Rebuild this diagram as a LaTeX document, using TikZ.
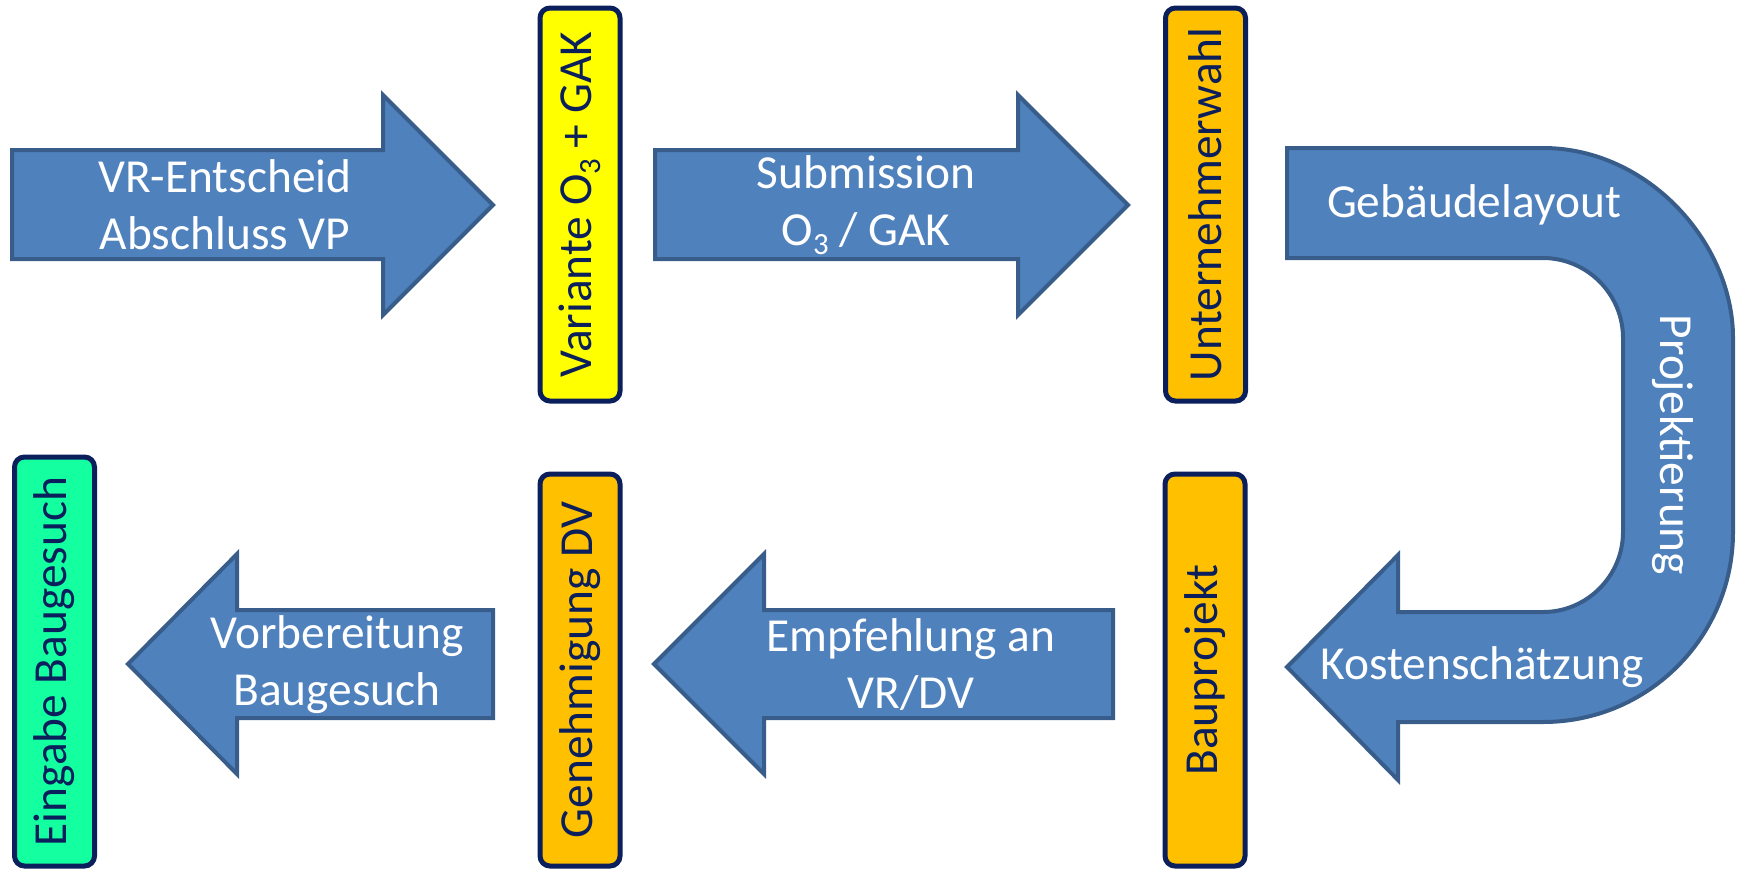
\documentclass[tikz,border=0pt]{standalone}
\usepackage{fontspec}
\setmainfont{Carlito}
\definecolor{arrowfill}{HTML}{4F81BD}
\definecolor{arrowline}{HTML}{385D8A}
\definecolor{navy}{HTML}{0A1F5C}
\definecolor{boxyellow}{HTML}{FFFF00}
\definecolor{boxorange}{HTML}{FFC000}
\definecolor{boxgreen}{HTML}{14FFA0}
\newcommand\lowsub[1]{\raisebox{-4.5pt}{\fontsize{15.4}{15}\selectfont #1}}
\begin{document}
\begin{tikzpicture}[x=0.5pt,y=-0.5pt,
  font=\fontsize{23.7}{28.5}\selectfont,
  arr/.style={fill=arrowfill, draw=arrowline, line width=2pt, line join=miter},
  atext/.style={text=white, align=center, inner sep=0pt},
  box/.style={draw=navy, line width=2.5pt, rounded corners=5pt, text=navy,
    minimum height=40pt, inner sep=0pt, rotate=90}]
\useasboundingbox (0,0) rectangle (1738,869);

% straight arrows
\path[arr] (12,150) -- (383,150) -- (383,95) -- (493,205) -- (383,315) -- (383,259) -- (12,259) -- cycle;
\path[arr] (655,150) -- (1018,150) -- (1018,95) -- (1128,205) -- (1018,315) -- (1018,259) -- (655,259) -- cycle;
\path[arr] (1113,610) -- (764,610) -- (764,554) -- (654,664) -- (764,774) -- (764,718) -- (1113,718) -- cycle;
\path[arr] (493,610) -- (237,610) -- (237,554) -- (128,664) -- (237,774) -- (237,718) -- (493,718) -- cycle;

% U-turn arrow
\path[arr] (1287,148) -- (1543,148)
  .. controls (1648,148) and (1733,243) .. (1733,338)
  -- (1733,532)
  .. controls (1733,637) and (1648,722) .. (1543,722)
  -- (1398,722) -- (1398,780) -- (1287,667) -- (1398,555) -- (1398,612) -- (1543,612)
  .. controls (1587,612) and (1623,576) .. (1623,532)
  -- (1623,338)
  .. controls (1623,294) and (1587,258) .. (1543,258)
  -- (1287,258) -- cycle;

% arrow texts
\node[atext] (t1) at (225,205) {VR-Entscheid\\Abschluss VP};
\node[atext] (t2) at (866,205) {Submission\\O\lowsub{3} / GAK};
\node[atext] (t3) at (1474,205) {Gebäudelayout};
\node[atext, rotate=-90] (t4) at (1673,445) {Projektierung};
\node[atext] (t5) at (1482,667) {Kostenschätzung};
\node[atext] (t6) at (911,665) {Empfehlung an\\VR/DV};
\node[atext] (t7) at (337,665) {Vorbereitung\\Baugesuch};

% boxes
\node[box, fill=boxyellow, minimum width=196.5pt] (b1) at (580,204.5) {Variante O\lowsub{3} + GAK};
\node[box, fill=boxorange, minimum width=196.5pt] (b2) at (1205.5,204.5) {Unternehmerwahl};
\node[box, fill=boxorange, minimum width=196pt] (b3) at (1205,670) {Bauprojekt};
\node[box, fill=boxorange, minimum width=196pt] (b4) at (580,670) {Genehmigung DV};
\node[box, fill=boxgreen, minimum width=204.5pt] (b5) at (54.5,661.5) {Eingabe Baugesuch};
\end{tikzpicture}
\end{document}
